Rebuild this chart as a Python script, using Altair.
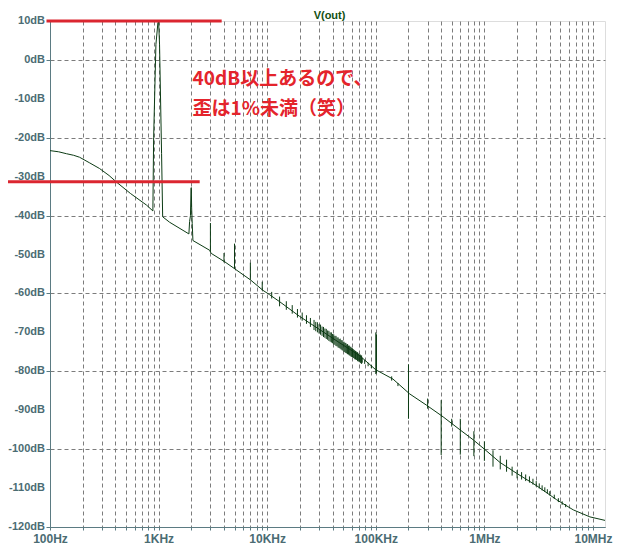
import altair as alt
import pandas as pd

# ---- main trace (frequency in Hz, level in dB) ----
trace_freq = [100, 120, 142, 165, 187, 230, 286, 350, 410, 550, 774, 886, 900, 945, 985, 1000, 1020, 1065, 1090,
              1262, 1901, 1930, 1965, 1990, 2000, 2015, 2040, 2070, 2951, 3050, 4083,
              5047, 7000, 9140, 10500, 13000, 19900, 30500, 46600, 71200, 100000,
              144000, 205000, 293000, 417000, 594000, 789000, 1010000, 1390000,
              1980000, 3030000, 4630000, 6580000, 9370000, 12900000]
trace_db = [-23.3, -23.6, -24.1, -24.5, -25.0, -26.4, -27.9, -29.7, -31.4, -34.3, -37.3, -38.8, -20.0, 4.0, 9.5, 10.0, 4.0, -24.0, -40.3,
            -41.7, -44.7, -41.5, -40.0, -33.0, -32.8, -38.0, -42.0, -46.4, -48.9, -49.7, -51.9,
            -53.7, -56.5, -59.2, -60.3, -62.1, -65.9, -69.3, -72.7, -76.0, -79.6,
            -82.0, -85.8, -88.7, -91.7, -95.0, -97.6, -100.1, -103.4,
            -106.2, -109.4, -113.0, -115.6, -117.4, -118.3]

# ---- harmonic / spur spikes (frequency, top dB, bottom dB) ----
spike_freq = [3000, 4000, 5000, 7000, 9000,
              11000, 13000, 15000, 17000, 19000, 21000, 23000, 25000,
              27000, 29000, 31000, 33000, 35000, 37000, 39000, 41000, 43000, 45000,
              47000, 49000, 51000, 53000, 55000, 57000, 59000, 61000, 63000, 65000,
              67000, 69000, 71000, 73000, 75000, 79000, 85000, 91000,
              28000, 30000, 32000, 34000, 36000, 38000, 40000, 42000, 44000, 46000,
              48000, 50000, 52000, 54000, 56000, 58000, 60000, 62000, 64000, 66000,
              68000, 70000, 72000, 74000,
              100000, 101500, 140000, 160000,
              200000, 300000, 400000, 500000, 600000, 800000, 1000000,
              1200000, 1400000, 1600000, 1800000, 2000000, 2200000, 2400000,
              2600000, 2800000, 3000000, 3200000, 3400000, 3600000, 3800000,
              4000000, 4400000, 4800000, 5200000, 5600000]
spike_hi = [-41.9, -49.6, -47.2, -52.1, -57.0,
            -59.6, -60.8, -62.0, -63.0, -64.0, -64.9, -65.6, -66.3,
            -66.8, -67.4, -68.0, -68.6, -69.1, -69.6, -70.0, -70.5, -70.9, -71.3,
            -71.6, -72.0, -72.4, -72.7, -73.0, -73.4, -73.7, -74.1, -74.5, -74.8,
            -75.1, -75.5, -75.8, -76.2, -76.5, -77.1, -77.8, -78.4,
            -67.3, -67.9, -68.5, -69.0, -69.5, -70.0, -70.4, -70.9, -71.3, -71.7,
            -72.0, -72.4, -72.7, -73.1, -73.4, -73.7, -74.0, -74.3, -74.6, -74.9,
            -75.1, -75.4, -75.7, -75.9,
            -70.0, -70.5, -81.3, -83.0,
            -78.2, -87.0, -87.4, -92.2, -92.2, -95.4, -98.0,
            -100.3, -101.7, -102.7, -104.5, -105.4, -105.9, -106.5,
            -107.0, -107.6, -108.2, -108.8, -109.3, -109.8, -110.3,
            -110.8, -111.7, -112.6, -113.4, -114.1]
spike_lo = [-49.3, -52.0, -53.7, -56.5, -59.2,
            -61.3, -63.3, -64.2, -65.2, -66.2, -67.0, -67.8, -68.6,
            -69.4, -70.0, -70.6, -71.2, -71.7, -72.2, -72.6, -73.1, -73.5, -73.9,
            -74.2, -74.6, -75.0, -75.3, -75.6, -75.9, -76.2, -76.4, -76.6, -76.9,
            -77.1, -77.3, -77.5, -77.7, -77.8, -78.1, -78.7, -79.2,
            -69.7, -70.3, -70.9, -71.4, -71.9, -72.4, -72.8, -73.2, -73.6, -74.0,
            -74.4, -74.7, -75.1, -75.4, -75.7, -76.0, -76.3, -76.6, -76.9, -77.1,
            -77.4, -77.6, -77.9, -78.1,
            -80.7, -80.5, -82.4, -83.8,
            -92.2, -89.6, -101.5, -94.2, -101.4, -101.8, -103.0,
            -104.5, -105.2, -105.8, -106.8, -107.5, -107.8, -108.2,
            -108.6, -109.1, -109.6, -110.1, -110.6, -111.0, -111.4,
            -111.9, -112.8, -113.6, -114.3, -114.9]

# ---- annotation lines (x from, x to, level) ----
mark_x1 = [92.8, 35.7]
mark_x2 = [3810, 2390]
mark_db = [10.0, -31.3]

# ---- annotation text ----
note_lines = ["40dB以上あるので、", "歪は1%未満（笑）"]
note_freq = [2056, 2056]
note_db = [-5.0, -12.6]

# ---- title ----
title_text = ["V(out)"]

# ---- axes ----
y_ticks = list(range(-120, 11, 10))
y_labels = ["-120dB", "-110dB", "-100dB", "-90dB", "-80dB", "-70dB", "-60dB", "-50dB",
            "-40dB", "-30dB", "-20dB", "-10dB", "0dB", "10dB"]
x_label_vals = [100, 1000, 10000, 100000, 1000000, 10000000]
x_labels = ["100Hz", "1KHz", "10KHz", "100KHz", "1MHz", "10MHz"]
x_grid = [k * 10 ** n for n in range(2, 8) for k in range(1, 10) if k * 10 ** n <= 12900000]

X_DOMAIN = [100, 12900000]
Y_DOMAIN = [-120, 10]
W, H = 555, 506

AXIS_COL = "#5b7b82"
LABEL_COL = "#4b6c73"
GRID_COL = "#7c7c7c"
TRACE_COL = "#0c3b14"
RED = "#db2630"

label_expr = ""
for v, t in zip(x_label_vals, x_labels):
    label_expr += f"datum.value == {v} ? '{t}' : "
label_expr += "''"

xscale = alt.Scale(type="log", domain=X_DOMAIN, nice=False)
yscale = alt.Scale(domain=Y_DOMAIN, nice=False)

xaxis = alt.Axis(values=x_grid, labelExpr=label_expr, grid=True, gridDash=[4, 3],
                 gridColor=GRID_COL, gridWidth=1, domainColor=AXIS_COL, tickColor=AXIS_COL,
                 tickSize=3, labelFont="Liberation Sans", labelFontSize=12,
                 labelFontWeight="bold", labelColor=LABEL_COL, labelPadding=3,
                 labelFlush=False, labelOverlap=False, labelBound=False, title=None)
yaxis = alt.Axis(values=y_ticks, labels=False, grid=True,
                 gridDash=[4, 3], gridColor=GRID_COL, gridWidth=1, domainColor=AXIS_COL,
                 tickColor=AXIS_COL, tickSize=4, title=None)

trace_df = pd.DataFrame({"f": trace_freq, "db": trace_db})
spike_df = pd.DataFrame({"f": spike_freq, "hi": spike_hi, "lo": spike_lo})
mark_df = pd.DataFrame({"x1": mark_x1, "x2": mark_x2, "db": mark_db})
note_df = pd.DataFrame({"f": note_freq, "db": note_db, "t": note_lines})
ylab_df = pd.DataFrame({"v": y_ticks, "t": y_labels})
title_df = pd.DataFrame({"t": title_text})

base_line = alt.Chart(trace_df).mark_line(color=TRACE_COL, strokeWidth=1, clip=True).encode(
    x=alt.X("f:Q", scale=xscale, axis=xaxis),
    y=alt.Y("db:Q", scale=yscale, axis=yaxis),
    order=alt.Order("f:Q"),
)

spikes = alt.Chart(spike_df).mark_rule(color=TRACE_COL, strokeWidth=1).encode(
    x=alt.X("f:Q", scale=xscale),
    y=alt.Y("hi:Q", scale=yscale),
    y2="lo:Q",
)

ylabels = alt.Chart(ylab_df).mark_text(align="right", baseline="middle", font="Liberation Sans",
                                       fontSize=11, fontWeight="bold", color=LABEL_COL,
                                       dx=-5).encode(
    x=alt.value(0),
    y=alt.Y("v:Q", scale=yscale),
    text="t:N",
)

title = alt.Chart(title_df).mark_text(align="center", baseline="alphabetic", font="Liberation Sans",
                                      fontSize=11, fontWeight="bold", color="#125012").encode(
    x=alt.value(W / 2 + 2),
    y=alt.value(-2),
    text="t:N",
)

red_lines = alt.Chart(mark_df).mark_rule(color=RED, strokeWidth=3).encode(
    x=alt.X("x1:Q", scale=xscale),
    x2="x2:Q",
    y=alt.Y("db:Q", scale=yscale),
)

notes = alt.Chart(note_df).mark_text(align="left", baseline="middle", font="Noto Sans CJK JP",
                                     fontSize=19, fontWeight="bold", color="#e4242c").encode(
    x=alt.X("f:Q", scale=xscale),
    y=alt.Y("db:Q", scale=yscale),
    text="t:N",
)

chart = alt.layer(base_line, spikes, ylabels, title, red_lines, notes).properties(
    width=W,
    height=H,
    padding={"left": 42, "top": 13, "right": 20, "bottom": 19},
    autosize=alt.AutoSizeParams(type="none"),
).configure_view(stroke=AXIS_COL, strokeWidth=1).configure(background="white")

chart.save("out.html", embed_options={"renderer": "svg", "actions": False})
